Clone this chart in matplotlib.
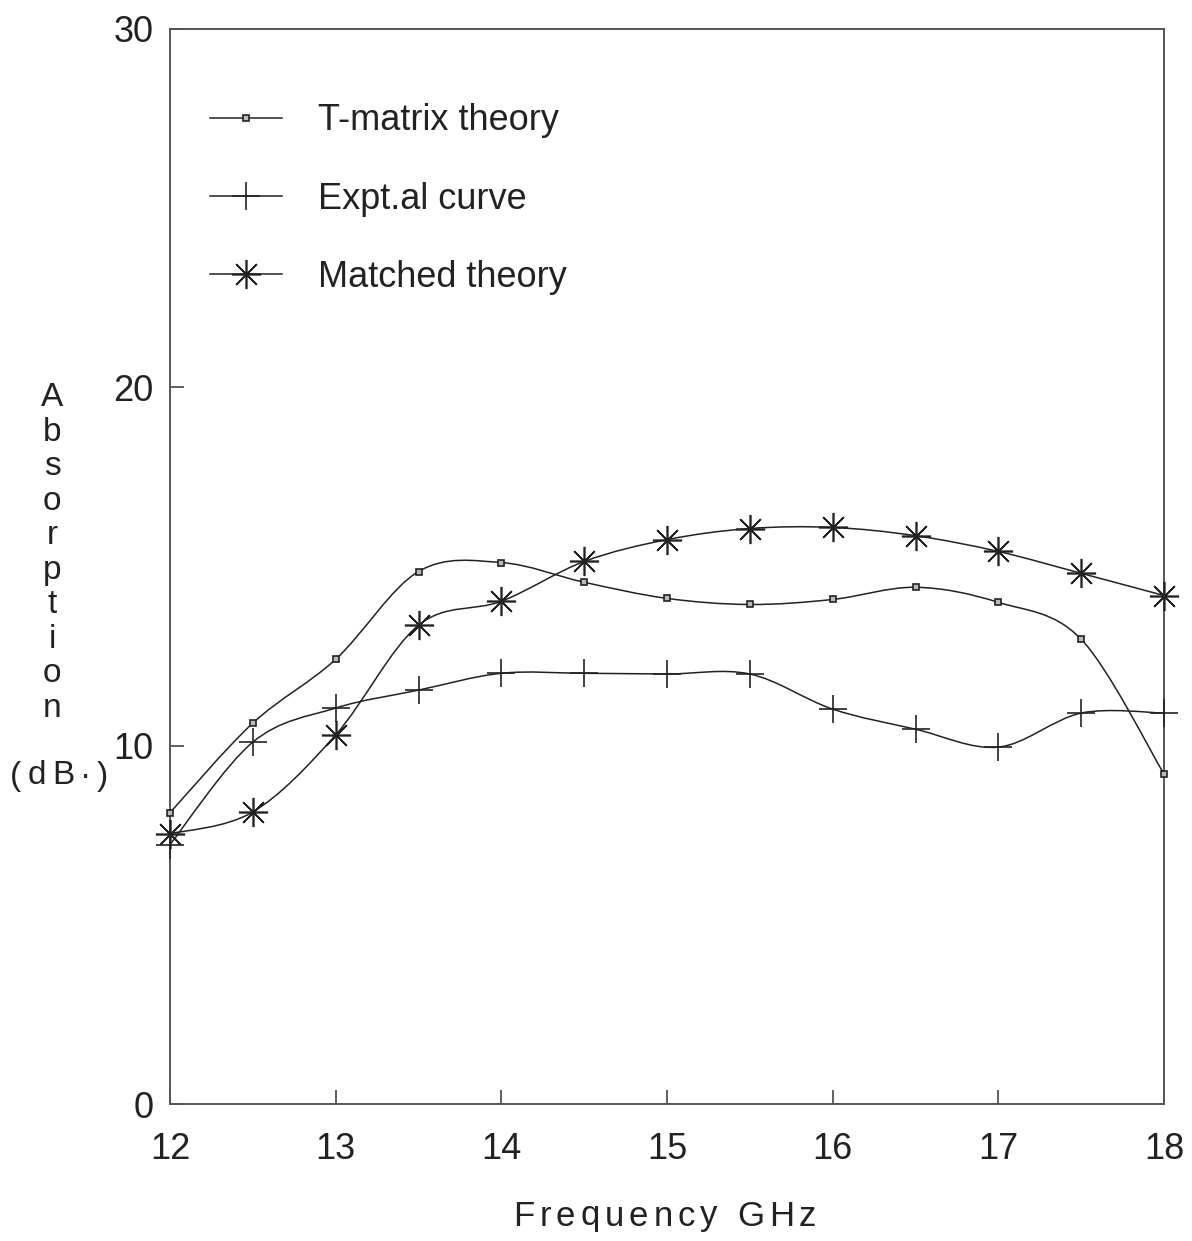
# Absorption vs frequency: T-matrix theory, experiment and matched theory
import matplotlib.pyplot as plt
import numpy as np
from matplotlib.path import Path
from matplotlib.patches import PathPatch
from matplotlib.lines import Line2D

plt.rcParams['font.family'] = ['Liberation Sans', 'DejaVu Sans']

# --- Data ---
freq = [12, 12.5, 13, 13.5, 14, 14.5, 15, 15.5, 16, 16.5, 17, 17.5, 18]
t_matrix = [8.13, 10.63, 12.41, 14.86, 15.11, 14.56, 14.11, 13.94, 14.08, 14.42, 14.0, 12.97, 9.21]
expt = [7.24, 10.1, 11.05, 11.55, 12.02, 12.02, 12.0, 12.0, 11.02, 10.46, 9.96, 10.91, 10.91]
matched = [7.54, 8.15, 10.3, 13.36, 14.03, 15.14, 15.75, 16.06, 16.09, 15.86, 15.42, 14.81, 14.19]

labels = ['T-matrix theory', 'Expt.al curve', 'Matched theory']
x_ticks = [12, 13, 14, 15, 16, 17, 18]
y_ticks = [0, 10, 20, 30]

W, H = 1192, 1241
INK = '#222222'


def smooth_path(x, y):
    """Catmull-Rom curve through the points, as cubic bezier segments."""
    p = np.column_stack([x, y]).astype(float)
    p = np.vstack([p[0], p, p[-1]])
    verts = [p[1]]
    codes = [Path.MOVETO]
    for i in range(1, len(p) - 2):
        c1 = p[i] + (p[i + 1] - p[i - 1]) / 6
        c2 = p[i + 1] - (p[i + 2] - p[i]) / 6
        verts += [c1, c2, p[i + 1]]
        codes += [Path.CURVE4] * 3
    return Path(verts, codes)


def spaced_text(fig, x0, yc, s, size, track):
    """Draw text char by char with extra tracking (pixel coords from top-left)."""
    r = fig.canvas.get_renderer()
    x = x0
    for ch in s:
        t = fig.text(x / W, 1 - yc / H, ch, ha='left', va='center',
                     fontsize=size, color=INK)
        x += t.get_window_extent(r).width + track
    return x


fig = plt.figure(figsize=(W / 100, H / 100), dpi=100)
ax = fig.add_axes([170 / W, 1 - 1104 / H, (1164 - 170) / W, (1104 - 29) / H])

series = [t_matrix, expt, matched]
markers = [dict(marker='s', markersize=5, mfc='#bbbbbb', mec=INK, mew=1.2),
           dict(marker='+', markersize=20, mec=INK, mew=1.2),
           dict(marker=(8, 2, 0), markersize=21, mec=INK, mew=1.2)]

handles = []
for vals, mk, lab in zip(series, markers, labels):
    ax.add_patch(PathPatch(smooth_path(freq, vals), fill=False, ec=INK, lw=1.1))
    ax.plot(freq, vals, linestyle='none', clip_on=False, zorder=3, **mk)
    handles.append(Line2D([], [], color=INK, lw=1.1, label=lab, **mk))

ax.set_xlim(12, 18)
ax.set_ylim(0, 30)
ax.set_xticks(x_ticks)
ax.set_yticks(y_ticks)
ax.tick_params(direction='in', length=10, width=1.2, color='#444444',
               labelsize=26, labelcolor=INK)
ax.tick_params(axis='x', pad=20)
ax.tick_params(axis='y', pad=12)
for s in ax.spines.values():
    s.set_color('#555555')
    s.set_linewidth(1.4)

leg = ax.legend(handles=handles, loc='upper left', bbox_to_anchor=(0.04, 0.931),
                frameon=False, fontsize=26, handlelength=2.0, handletextpad=1.0,
                labelspacing=1.2, borderpad=0, borderaxespad=0)
for t in leg.get_texts():
    t.set_color(INK)

# vertical stacked y label
for i, ch in enumerate('Absorption'):
    fig.text(52 / W, 1 - (398 + i * 34.5) / H, ch, ha='center', va='center',
             fontsize=24, color=INK)
spaced_text(fig, 10, 776, '(dB·)', 24, 6)

spaced_text(fig, 513, 1216, 'Frequency GHz', 25, 5)

fig.savefig('out.png', dpi=100)
